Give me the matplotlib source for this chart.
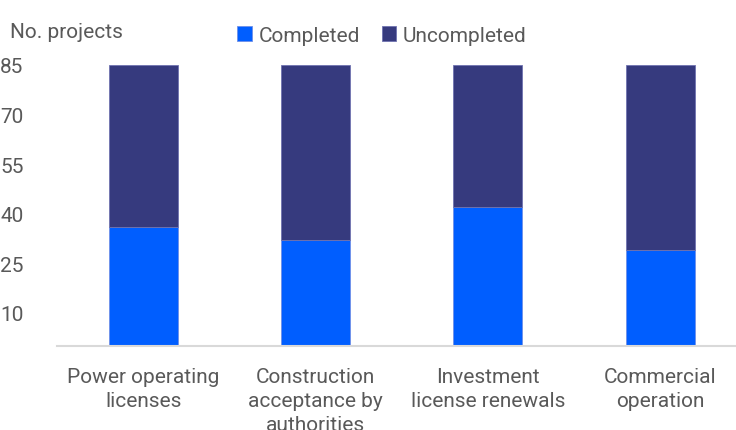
import numpy as np
import matplotlib
matplotlib.use("Agg")
import matplotlib.pyplot as plt

plt.rcParams.update({"font.family": ["Roboto", "DejaVu Sans"], "font.size": 15,
                     "text.color": "#595959", "xtick.color": "#595959", "ytick.color": "#595959"})

categories = ["Power operating\nlicenses", "Construction\nacceptance by\nauthorities",
              "Investment\nlicense renewals", "Commercial\noperation"]
total = [85, 85, 85, 85]
completed = [36, 32, 42, 29]
uncompleted = [t - c for t, c in zip(total, completed)]
yticks = [10, 25, 40, 55, 70, 85]

BLUE = "#005EFF"
NAVY = "#363A7E"

fig = plt.figure(figsize=(7.36, 4.31), dpi=100)
ax = fig.add_axes([57 / 736, 1 - 347 / 431, 1 - 57 / 736, (347 - 66) / 431])

x = np.arange(len(categories))
w = 0.4
ax.bar(x, completed, w, color=BLUE, edgecolor="#6f8fe8", linewidth=0.6, label="Completed")
ax.bar(x, uncompleted, w, bottom=completed, color=NAVY, edgecolor="#6f73b0", linewidth=0.6,
       label="Uncompleted")

ax.set_xlim(-0.5, 3.44)
ax.set_ylim(0, 85)
ax.set_yticks(yticks)
ax.set_xticks(x)
ax.set_xticklabels(categories, linespacing=1.35)
ax.tick_params(axis="y", length=0, pad=14)
ax.tick_params(axis="x", length=0, pad=15)
for lab in ax.get_yticklabels():
    lab.set_horizontalalignment("left")
    lab.set_x(-0.055)
for s in ["top", "right", "left"]:
    ax.spines[s].set_visible(False)
ax.spines["bottom"].set_color("#d9d9d9")
ax.spines["bottom"].set_linewidth(1.5)

fig.text(10 / 736, 1 - 32 / 431, "No. projects", ha="left", va="center")
fig.legend(loc="center left", bbox_to_anchor=(227 / 736, 1 - 36 / 431), ncol=2, frameon=False,
           handlelength=0.7, handleheight=0.7, handletextpad=0.3, columnspacing=1.05, borderpad=0)

fig.savefig("out.png", dpi=100)
